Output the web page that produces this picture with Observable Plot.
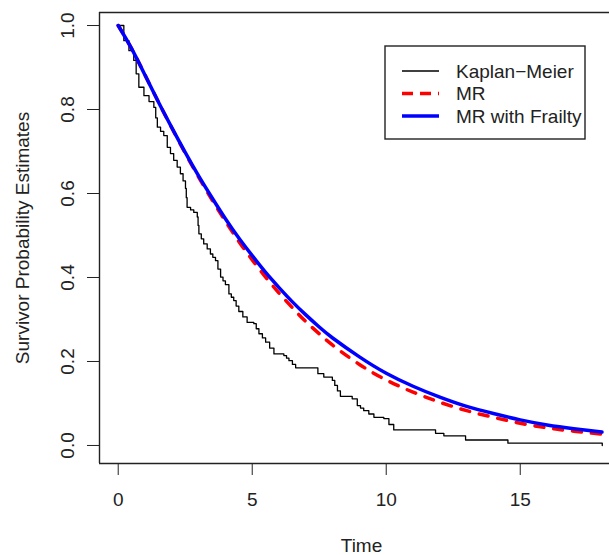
<!DOCTYPE html>
<html><head><meta charset="utf-8">
<script src="https://cdn.jsdelivr.net/npm/d3@7"></script>
<script src="https://cdn.jsdelivr.net/npm/@observablehq/plot@0.6"></script>
<style>body{margin:0;background:#fff}</style>
</head><body><div id="chart"></div>
<script>
// Kaplan-Meier step curve (time, survival after the step)
const kmTime = [0,0.21,0.40,0.58,0.67,0.77,0.96,1.15,1.33,1.40,1.46,1.58,1.70,1.83,1.95,2.07,2.20,2.32,2.42,2.51,2.54,2.57,2.70,2.82,2.95,2.98,3.01,3.10,3.19,3.32,3.44,3.53,3.63,3.72,3.82,3.91,4.00,4.13,4.22,4.31,4.40,4.50,4.65,4.81,5.06,5.15,5.25,5.38,5.50,5.65,5.81,6.18,6.28,6.37,6.50,6.62,7.45,7.67,7.99,8.08,8.18,8.29,8.73,8.92,9.04,9.16,9.35,9.54,9.91,10.10,10.28,11.84,12.15,12.96,14.54,18.06];
const kmSurv = [1,0.964,0.940,0.917,0.885,0.853,0.833,0.819,0.805,0.780,0.758,0.748,0.738,0.710,0.695,0.679,0.663,0.647,0.630,0.612,0.590,0.567,0.561,0.555,0.544,0.524,0.504,0.492,0.480,0.468,0.456,0.448,0.440,0.420,0.401,0.392,0.383,0.361,0.353,0.345,0.332,0.319,0.306,0.293,0.290,0.278,0.266,0.256,0.246,0.232,0.218,0.214,0.208,0.202,0.193,0.185,0.171,0.163,0.155,0.143,0.130,0.117,0.111,0.095,0.089,0.083,0.075,0.067,0.064,0.050,0.037,0.029,0.023,0.013,0.0055,0];

// MR model (red dashed)
const mrTime = [0,0.5,1,1.5,2,2.5,3,3.5,4,4.5,5,5.5,6,6.5,7,7.5,8,9,10,11,12,13,14,15,16,17,18.05];
const mrSurv = [1,0.945,0.882,0.818,0.756,0.696,0.639,0.585,0.534,0.486,0.442,0.401,0.363,0.328,0.295,0.266,0.239,0.193,0.156,0.127,0.103,0.083,0.067,0.053,0.042,0.034,0.027];

// MR with Frailty (blue)
const frailTime = [0,0.5,1,1.5,2,2.5,3,3.5,4,4.5,5,5.5,6,6.5,7,7.5,8,9,10,11,12,13,14,15,16,17,18.05];
const frailSurv = [1,0.945,0.882,0.818,0.757,0.698,0.642,0.590,0.540,0.494,0.452,0.412,0.376,0.342,0.311,0.282,0.256,0.211,0.172,0.141,0.115,0.093,0.076,0.061,0.049,0.040,0.032];

const xTicks = [0,5,10,15];
const yTicks = [0,0.2,0.4,0.6,0.8,1.0];
const legendLabels = ["Kaplan\u2212Meier","MR","MR with Frailty"];
const xTitle = "Time";
const yTitle = "Survivor Probability Estimates";

const km = kmTime.map((t,i)=>({t, s: kmSurv[i]}));
const mr = mrTime.map((t,i)=>({t, s: mrSurv[i]}));
const fr = frailTime.map((t,i)=>({t, s: frailSurv[i]}));

const xDom = [-0.698, 18.33];
const yDom = [-0.0429, 1.031];
const FONT = "'Liberation Sans', Arial, Helvetica, sans-serif";

const plot = Plot.plot({
  width: 609, height: 555,
  marginLeft: 99, marginRight: 0, marginTop: 12, marginBottom: 92,
  style: {fontFamily: FONT, fontSize: "19px", color: "#222", background: "#fff", overflow: "visible"},
  x: {domain: xDom, ticks: xTicks, tickSize: 12, tickFormat: () => "", label: null},
  y: {domain: yDom, ticks: yTicks, tickSize: 12, tickFormat: () => "", label: null},
  marks: [
    Plot.ruleX([xDom[0]], {stroke: "#222", strokeWidth: 1.4}),
    Plot.ruleY([yDom[0], yDom[1]], {stroke: "#222", strokeWidth: 1.4}),
    Plot.line(km, {x: "t", y: "s", curve: "step-after", stroke: "#000", strokeWidth: 1.3}),
    Plot.line(mr, {x: "t", y: "s", curve: "natural", stroke: "#ff0000", strokeWidth: 3.5, strokeDasharray: "9,10"}),
    Plot.line(fr, {x: "t", y: "s", curve: "natural", stroke: "#0000ff", strokeWidth: 3.5}),
    Plot.text(xTicks, {x: d => d, text: d => String(d), frameAnchor: "bottom", dy: 36, lineAnchor: "middle", textAnchor: "middle", fill: "#222"}),
    Plot.text(yTicks, {y: d => d, text: d => d.toFixed(1), frameAnchor: "left", dx: -32, rotate: -90, lineAnchor: "middle", textAnchor: "middle", fill: "#222"}),
    Plot.text([xTitle], {text: d => d, frameAnchor: "bottom", dx: 7, dy: 82, lineAnchor: "middle", textAnchor: "middle", fill: "#222"}),
    Plot.text([yTitle], {text: d => d, frameAnchor: "left", dx: -77, rotate: -90, lineAnchor: "middle", textAnchor: "middle", fill: "#222"})
  ]
});
document.getElementById("chart").appendChild(plot);

// Legend (inside plot, top-right)
const legendStyles = [
  {stroke: "#000", width: 1.3, dash: null},
  {stroke: "#ff0000", width: 3.5, dash: "11,7"},
  {stroke: "#0000ff", width: 3.5, dash: null}
];
const svg = d3.select(plot);
const lg = svg.append("g").attr("font-family", FONT).attr("font-size", "19px").attr("text-anchor", "start");
lg.append("rect").attr("x", 385).attr("y", 46).attr("width", 200).attr("height", 93)
  .attr("fill", "#fff").attr("stroke", "#222").attr("stroke-width", 1.4);
legendLabels.forEach((lab, i) => {
  const yy = 71 + i * 22.5;
  const st = legendStyles[i];
  const ln = lg.append("line").attr("x1", 402).attr("x2", 439).attr("y1", yy).attr("y2", yy)
    .attr("stroke", st.stroke).attr("stroke-width", st.width);
  if (st.dash) ln.attr("stroke-dasharray", st.dash);
  lg.append("text").attr("x", 456).attr("y", yy).attr("dy", "0.35em").attr("text-anchor", "start").attr("fill", "#222").text(lab);
});
</script>
</body></html>
